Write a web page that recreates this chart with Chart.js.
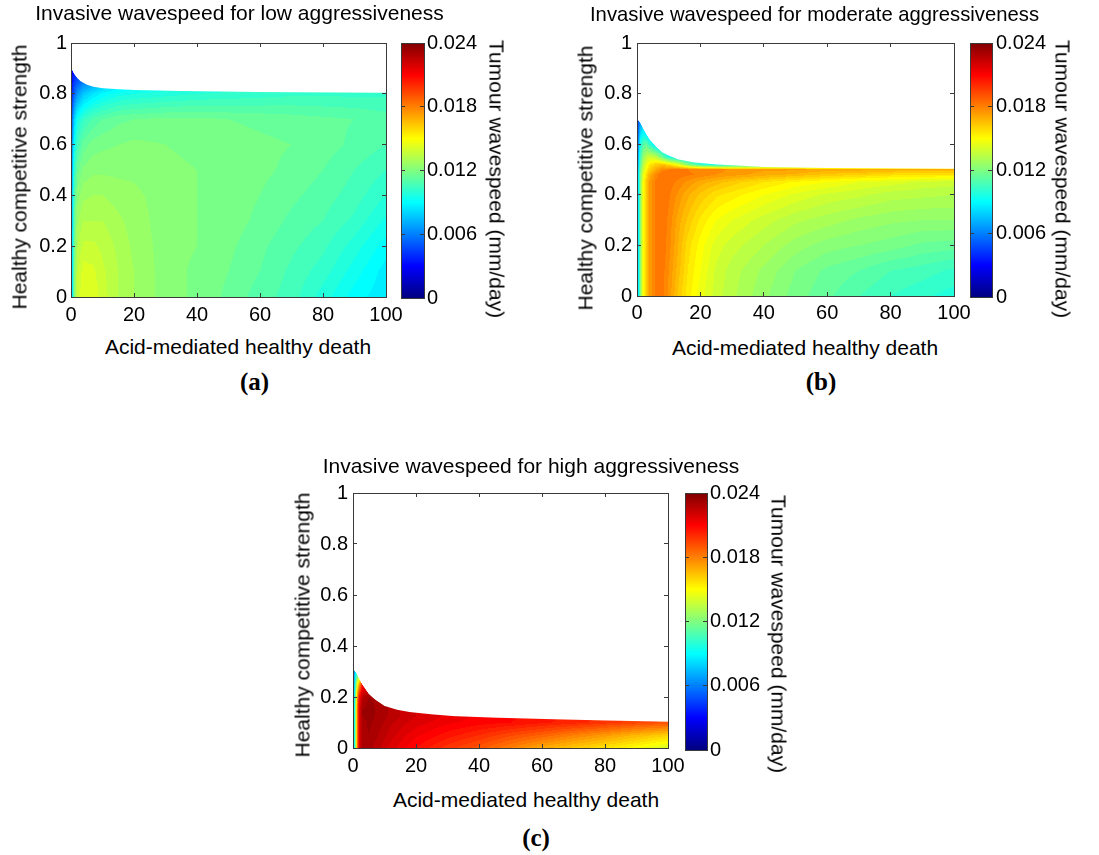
<!DOCTYPE html>
<html>
<head>
<meta charset="utf-8">
<script src="https://cdn.jsdelivr.net/npm/chart.js@4.4.1/dist/chart.umd.min.js"></script>
<style>
html,body{margin:0;padding:0;background:#fff;}
#root{position:relative;width:1099px;height:855px;overflow:hidden;font-family:"Liberation Sans",Arial,sans-serif;}
canvas{position:absolute;}
.lbl{position:absolute;font-size:21px;white-space:nowrap;line-height:1;color:#000;transform:translate(-50%,-50%);}
.lbl.v{transform:translate(-50%,-50%) rotate(-90deg);}
.lbl.vr{transform:translate(-50%,-50%) rotate(90deg);}
.cap{position:absolute;font-family:"Liberation Serif","Times New Roman",serif;font-weight:bold;font-size:25px;line-height:1;transform:translate(-50%,-50%);white-space:nowrap;}
</style>
</head>
<body>
<div id="root">
  <canvas id="mainA" width="479" height="330" style="left:0px;top:0px"></canvas>
  <canvas id="cbA" width="115" height="330" style="left:395px;top:0px"></canvas>
  <canvas id="mainB" width="449" height="330" style="left:590px;top:0px"></canvas>
  <canvas id="cbB" width="135" height="330" style="left:964px;top:0px"></canvas>
  <canvas id="mainC" width="462" height="328" style="left:300px;top:453px"></canvas>
  <canvas id="cbC" width="121" height="330" style="left:679px;top:453px"></canvas>

  <div class="lbl" style="left:238px;top:346px">Acid-mediated healthy death</div>
  <div class="lbl v" style="left:18.5px;top:177px">Healthy competitive strength</div>
  <div class="lbl vr" style="left:497px;top:178.5px">Tumour wavespeed (mm/day)</div>
  <div class="cap" style="left:254.5px;top:381px">(a)</div>

  <div class="lbl" style="left:805px;top:346.7px">Acid-mediated healthy death</div>
  <div class="lbl v" style="left:585px;top:178px">Healthy competitive strength</div>
  <div class="lbl vr" style="left:1062.5px;top:179px">Tumour wavespeed (mm/day)</div>
  <div class="cap" style="left:821px;top:381px">(b)</div>

  <div class="lbl" style="left:526px;top:799px">Acid-mediated healthy death</div>
  <div class="lbl v" style="left:301.5px;top:625px">Healthy competitive strength</div>
  <div class="lbl vr" style="left:779px;top:634px">Tumour wavespeed (mm/day)</div>
  <div class="cap" style="left:536px;top:836.5px">(c)</div>
</div>
<script>
// ---------------- axes / tick data ----------------
const xTicks = [0, 20, 40, 60, 80, 100];
const xTickLabels = ['0', '20', '40', '60', '80', '100'];
const yTicks = [0, 0.2, 0.4, 0.6, 0.8, 1];
const yTickLabels = ['0', '0.2', '0.4', '0.6', '0.8', '1'];
const cbTicks = [0, 0.006, 0.012, 0.018, 0.024];
const cbTickLabels = ['0', '0.006', '0.012', '0.018', '0.024'];
const CB_MIN = 0, CB_MAX = 0.024;       // colour limits (mm/day)
const SPEED_UNIT = 1e-3;                 // speed tables below are in 10^-3 mm/day
const LEVEL_STEP = 0.0004;               // contour level spacing (mm/day)

const titles = [
  'Invasive wavespeed for low aggressiveness',
  'Invasive wavespeed for moderate aggressiveness',
  'Invasive wavespeed for high aggressiveness'
];

// ---------------- panel (a): low aggressiveness ----------------
const deathA = [0, 0.5, 1, 2, 4, 7, 10, 15, 20, 30, 40, 50, 60, 70, 80, 90, 100];
const strengthA = [0, 0.1, 0.2, 0.3, 0.4, 0.5, 0.6, 0.7, 0.8, 0.85, 0.9, 1];
const speedA = [
  [2.4, 9.1, 12.0, 13.7, 14.4, 14.3, 13.8, 13.2, 12.8, 12.2, 11.9, 11.5, 11.0, 10.6, 9.8, 9.0, 8.5],
  [2.4, 9.1, 12.0, 13.6, 14.2, 14.1, 13.7, 13.2, 12.8, 12.2, 11.9, 11.6, 11.2, 10.7, 10.2, 9.4, 8.6],
  [2.4, 8.9, 11.5, 13.2, 13.7, 13.7, 13.5, 13.1, 12.7, 12.2, 12.0, 11.7, 11.3, 10.9, 10.5, 9.8, 9.0],
  [2.4, 8.6, 11.3, 12.7, 13.2, 13.2, 13.2, 12.9, 12.6, 12.2, 12.0, 11.8, 11.5, 11.1, 10.8, 10.3, 9.5],
  [2.4, 8.4, 10.8, 12.2, 12.7, 12.8, 12.8, 12.6, 12.5, 12.2, 12.0, 11.8, 11.6, 11.3, 11.0, 10.6, 10.0],
  [2.4, 7.9, 10.1, 11.5, 12.1, 12.3, 12.3, 12.3, 12.3, 12.1, 12.0, 11.9, 11.7, 11.5, 11.2, 10.8, 10.4],
  [2.4, 7.2, 9.1, 10.6, 11.4, 11.8, 11.9, 12.0, 12.1, 12.0, 11.9, 11.8, 11.7, 11.6, 11.4, 11.1, 10.8],
  [2.4, 6.2, 7.9, 9.4, 10.3, 10.9, 11.2, 11.5, 11.6, 11.7, 11.7, 11.6, 11.5, 11.4, 11.3, 11.2, 11.0],
  [1.9, 4.3, 5.3, 6.5, 7.7, 8.4, 8.9, 9.4, 9.6, 9.8, 10.0, 10.1, 10.2, 10.3, 10.3, 10.3, 10.3],
  [1.7, 3.6, 4.3, 5.0, 5.8, 6.5, 7.2, 7.9, 8.4, 8.9, 9.1, 9.4, 9.6, 9.6, 9.6, 9.6, 9.6],
  [1.4, 2.9, 3.4, 3.8, 4.8, 5.5, 6.0, 6.5, 7.0, 7.5, 8.0, 8.5, 9.0, 9.0, 9.0, 9.0, 9.0],
  [1.2, 2.4, 2.9, 3.4, 4.3, 5.0, 5.5, 6.0, 6.5, 7.0, 7.5, 8.0, 8.5, 8.5, 8.5, 8.5, 8.5]
];
const edgeDeathA = [0, 0.5, 1, 2, 3, 5, 7, 10, 15, 20, 35, 60, 100];
const edgeStrengthA = [0.905, 0.89, 0.878, 0.862, 0.85, 0.836, 0.828, 0.822, 0.818, 0.815, 0.811, 0.807, 0.804];

// ---------------- panel (b): moderate aggressiveness ----------------
const deathB = [0, 0.5, 1, 2, 3, 4, 6, 8, 10, 13, 16, 20, 25, 30, 40, 50, 60, 70, 80, 90, 100];
const strengthB = [0, 0.1, 0.2, 0.3, 0.4, 0.45, 0.48, 0.5, 0.52, 0.55, 0.6, 0.65, 0.7, 0.75];
const speedB = [
  [2.4, 9.1, 12.0, 14.9, 16.3, 17.3, 18.1, 18.2, 17.5, 16.3, 15.4, 14.6, 13.8, 13.3, 12.5, 11.8, 11.3, 10.8, 10.4, 10.1, 9.8],
  [2.4, 9.1, 12.0, 14.9, 16.3, 17.3, 18.1, 18.2, 17.6, 16.6, 15.6, 14.8, 13.9, 13.4, 12.7, 12.0, 11.5, 11.2, 10.8, 10.6, 10.3],
  [2.4, 9.1, 12.0, 14.9, 16.3, 17.3, 18.1, 18.3, 17.8, 16.8, 15.8, 15.0, 14.2, 13.8, 13.2, 12.6, 12.2, 12.0, 11.8, 11.5, 11.4],
  [2.4, 9.1, 12.0, 14.9, 16.3, 17.3, 18.1, 18.3, 17.9, 17.0, 16.3, 15.5, 14.8, 14.4, 13.8, 13.3, 13.0, 12.7, 12.5, 12.4, 12.4],
  [2.4, 9.1, 12.0, 14.9, 16.3, 17.3, 18.1, 18.4, 18.1, 17.5, 16.9, 16.3, 15.7, 15.4, 14.8, 14.3, 13.9, 13.7, 13.4, 13.3, 13.2],
  [2.4, 9.1, 12.0, 14.9, 16.3, 17.3, 18.1, 18.4, 18.2, 17.9, 17.5, 17.0, 16.6, 16.2, 15.6, 15.1, 14.8, 14.4, 14.2, 13.9, 13.8],
  [2.4, 8.9, 11.8, 14.4, 15.8, 16.8, 17.8, 18.4, 18.4, 18.2, 18.1, 17.9, 17.6, 17.4, 17.0, 16.7, 16.3, 16.1, 15.8, 15.7, 15.6],
  [2.4, 8.6, 11.5, 13.9, 15.1, 16.1, 17.0, 17.8, 18.0, 18.0, 18.0, 17.8, 17.8, 17.5, 17.3, 17.3, 17.0, 17.0, 16.8, 16.8, 16.8],
  [2.4, 8.2, 11.0, 13.4, 14.6, 15.4, 16.1, 16.3, 15.8, 14.4, 12.0, 10.1, 9.1, 9.1, 9.1, 9.1, 9.1, 9.1, 9.1, 9.1, 9.1],
  [2.4, 7.7, 10.3, 12.5, 13.4, 13.9, 13.4, 11.5, 9.6, 8.4, 8.4, 8.4, 8.4, 8.4, 8.4, 8.4, 8.4, 8.4, 8.4, 8.4, 8.4],
  [2.4, 7.0, 9.4, 11.0, 11.3, 10.1, 8.4, 7.2, 7.2, 7.2, 7.2, 7.2, 7.2, 7.2, 7.2, 7.2, 7.2, 7.2, 7.2, 7.2, 7.2],
  [2.4, 6.0, 7.9, 8.9, 7.9, 7.2, 7.2, 7.2, 7.2, 7.2, 7.2, 7.2, 7.2, 7.2, 7.2, 7.2, 7.2, 7.2, 7.2, 7.2, 7.2],
  [1.9, 4.8, 6.2, 6.0, 6.0, 6.0, 6.0, 6.0, 6.0, 6.0, 6.0, 6.0, 6.0, 6.0, 6.0, 6.0, 6.0, 6.0, 6.0, 6.0, 6.0],
  [1.9, 4.8, 4.8, 4.8, 4.8, 4.8, 4.8, 4.8, 4.8, 4.8, 4.8, 4.8, 4.8, 4.8, 4.8, 4.8, 4.8, 4.8, 4.8, 4.8, 4.8]
];
const edgeDeathB = [0, 1, 2, 3, 4, 6, 8, 10, 13, 18, 25, 40, 60, 100];
const edgeStrengthB = [0.70, 0.685, 0.66, 0.638, 0.618, 0.59, 0.568, 0.555, 0.54, 0.528, 0.52, 0.51, 0.506, 0.503];

// ---------------- panel (c): high aggressiveness ----------------
const deathC = [0, 0.5, 1, 1.5, 2, 3, 5, 8, 12, 16, 20, 30, 40, 50, 60, 70, 80, 90, 100];
const strengthC = [0, 0.05, 0.1, 0.125, 0.15, 0.2, 0.25, 0.3, 0.35];
const speedC = [
  [2.4, 9.6, 14.9, 19.2, 21.6, 22.8, 23.0, 22.5, 21.8, 21.3, 20.8, 19.8, 19.0, 18.0, 17.0, 16.3, 15.6, 14.9, 14.0],
  [2.4, 9.6, 14.9, 19.2, 21.6, 22.9, 23.2, 22.8, 22.2, 21.7, 21.3, 20.6, 20.0, 19.3, 18.7, 18.0, 17.4, 16.7, 16.1],
  [2.4, 9.6, 14.9, 19.2, 21.6, 23.0, 23.3, 23.0, 22.5, 22.1, 21.8, 21.3, 21.0, 20.8, 20.5, 20.2, 19.8, 19.4, 19.1],
  [2.4, 9.6, 14.9, 19.2, 21.6, 23.2, 23.4, 23.1, 22.7, 22.3, 22.0, 21.5, 21.1, 20.9, 20.6, 20.3, 19.9, 19.6, 19.2],
  [2.4, 9.6, 14.9, 19.2, 21.6, 23.2, 23.4, 23.1, 22.7, 22.3, 22.0, 21.5, 21.1, 20.9, 20.6, 20.3, 19.9, 19.6, 19.2],
  [2.4, 9.1, 14.4, 18.5, 20.9, 22.6, 23.2, 23.1, 22.7, 22.3, 22.0, 21.5, 21.1, 20.9, 20.6, 20.3, 19.9, 19.6, 19.2],
  [2.4, 8.4, 12.5, 15.4, 17.3, 20.6, 21.6, 21.6, 21.6, 21.6, 21.6, 21.6, 21.6, 21.6, 21.6, 21.6, 21.6, 21.6, 21.6],
  [2.4, 7.2, 9.1, 10.1, 10.8, 12.0, 12.0, 12.0, 12.0, 12.0, 12.0, 12.0, 12.0, 12.0, 12.0, 12.0, 12.0, 12.0, 12.0],
  [2.4, 7.2, 7.2, 7.2, 7.2, 7.2, 7.2, 7.2, 7.2, 7.2, 7.2, 7.2, 7.2, 7.2, 7.2, 7.2, 7.2, 7.2, 7.2]
];
const edgeDeathC = [0, 1, 2, 3, 4, 5, 7, 10, 14, 18, 25, 32, 45, 63, 80, 100];
const edgeStrengthC = [0.31, 0.295, 0.27, 0.248, 0.23, 0.212, 0.19, 0.165, 0.15, 0.141, 0.132, 0.125, 0.119, 0.113, 0.108, 0.103];

// ---------------- helpers ----------------
const FONT = '"Liberation Sans", Arial, sans-serif';
const AX_COLOR = '#3a3a3a';
Chart.defaults.font.family = FONT;

function jet(t) {
  t = Math.max(0, Math.min(1, t));
  const c = v => Math.round(255 * Math.max(0, Math.min(1, v)));
  return [c(1.5 - Math.abs(4 * t - 3)), c(1.5 - Math.abs(4 * t - 2)), c(1.5 - Math.abs(4 * t - 1))];
}
function locate(arr, v) {
  const n = arr.length;
  if (v <= arr[0]) return [0, 0];
  if (v >= arr[n - 1]) return [n - 2, 1];
  let i = 0;
  while (i < n - 2 && v > arr[i + 1]) i++;
  return [i, (v - arr[i]) / (arr[i + 1] - arr[i])];
}
function edgeAt(ex, ey, x) {
  const [i, t] = locate(ex, x);
  return ey[i] + (ey[i + 1] - ey[i]) * t;
}

// draws the filled contour field of dataset 0 through the chart's x / y scales
const fieldPlugin = {
  id: 'wavefield',
  beforeDraw(chart) {
    const ds = chart.data.datasets[0];
    if (!ds || !ds.field) return;
    const f = ds.field;
    const xS = chart.scales.x, yS = chart.scales.y, a = chart.chartArea;
    const x0 = Math.round(a.left), x1 = Math.round(a.right);
    const y0 = Math.round(a.top), y1 = Math.round(a.bottom);
    const w = x1 - x0, h = y1 - y0;
    const off = document.createElement('canvas');
    off.width = w; off.height = h;
    const octx = off.getContext('2d');
    const img = octx.createImageData(w, h);
    const cols = [];
    for (let i = 0; i < w; i++) {
      const xv = xS.getValueForPixel(x0 + i + 0.5);
      const [ix, tx] = locate(f.xs, xv);
      cols.push([ix, tx, edgeAt(f.ex, f.ey, xv)]);
    }
    const hy = Math.abs(yS.getValueForPixel(0) - yS.getValueForPixel(1)) / 2;
    for (let j = 0; j < h; j++) {
      const yv = yS.getValueForPixel(y0 + j + 0.5);
      const [iy, ty] = locate(f.ys, yv);
      const r0 = f.z[iy], r1 = f.z[iy + 1];
      for (let i = 0; i < w; i++) {
        const [ix, tx, e] = cols[i];
        const alpha = Math.max(0, Math.min(1, (e - (yv - hy)) / (2 * hy)));
        if (alpha <= 0) continue;
        const a0 = r0[ix] + (r0[ix + 1] - r0[ix]) * tx;
        const a1 = r1[ix] + (r1[ix + 1] - r1[ix]) * tx;
        const v = (a0 + (a1 - a0) * ty) * SPEED_UNIT;
        const lvl = Math.floor(v / LEVEL_STEP);
        const col = jet(((lvl + 0.5) * LEVEL_STEP - CB_MIN) / (CB_MAX - CB_MIN));
        const k = (j * w + i) * 4;
        img.data[k] = col[0]; img.data[k + 1] = col[1]; img.data[k + 2] = col[2];
        img.data[k + 3] = Math.round(alpha * 255);
      }
    }
    octx.putImageData(img, 0, 0);
    chart.ctx.drawImage(off, x0, y0);
  }
};

// draws the colour bar through the colour bar chart's y scale
const colorbarPlugin = {
  id: 'colorbar',
  beforeDraw(chart) {
    const ds = chart.data.datasets[0];
    if (!ds || !ds.colorbar) return;
    const yS = chart.scales.y, a = chart.chartArea, ctx = chart.ctx;
    const x0 = Math.round(a.left), x1 = Math.round(a.right);
    for (let py = Math.round(a.top); py < Math.round(a.bottom); py++) {
      const v = yS.getValueForPixel(py + 0.5);
      const c = jet((v - CB_MIN) / (CB_MAX - CB_MIN));
      ctx.fillStyle = `rgb(${c[0]},${c[1]},${c[2]})`;
      ctx.fillRect(x0, py, x1 - x0, 1);
    }
  }
};

function setTicks(arr) { return s => { s.ticks = arr.map(v => ({ value: v })); }; }
function gridOpts(len) { return { drawOnChartArea: false, drawTicks: true, tickLength: len, color: AX_COLOR, lineWidth: 1 }; }
const borderOpts = { display: true, color: AX_COLOR, width: 1 };

function mainChart(id, p) {
  const nodes = [];
  p.ys.forEach(y => p.xs.forEach(x => nodes.push({ x, y })));
  return new Chart(document.getElementById(id), {
    type: 'scatter',
    data: { datasets: [{ data: nodes, pointRadius: 0, showLine: false,
      field: { xs: p.xs, ys: p.ys, z: p.z, ex: p.ex, ey: p.ey } }] },
    options: {
      responsive: false, animation: false, devicePixelRatio: 1,
      layout: { padding: 0 },
      events: [],
      plugins: {
        legend: { display: false }, tooltip: { enabled: false },
        title: { display: true, text: p.title, color: '#000',
          font: { size: 21, weight: 'normal', family: FONT },
          padding: { top: p.tPadTop, bottom: p.tPadBottom } }
      },
      scales: {
        x: { type: 'linear', position: 'bottom', min: 0, max: 100,
          afterBuildTicks: setTicks(xTicks), afterFit: s => { s.height = p.xH; },
          ticks: { color: '#000', font: { size: 20, family: FONT }, padding: p.xPad, maxRotation: 0, autoSkip: false,
            callback: (v, i) => xTickLabels[i] },
          grid: gridOpts(-4), border: borderOpts },
        x2: { type: 'linear', position: 'top', min: 0, max: 100,
          afterBuildTicks: setTicks(xTicks), afterFit: s => { s.height = 0; },
          ticks: { display: false }, grid: gridOpts(-4), border: borderOpts },
        y: { type: 'linear', position: 'left', min: 0, max: 1,
          afterBuildTicks: setTicks(yTicks), afterFit: s => { s.width = p.yW; },
          ticks: { color: '#000', font: { size: 20, family: FONT }, padding: p.yPad, autoSkip: false,
            callback: (v, i) => yTickLabels[i] },
          grid: gridOpts(-4), border: borderOpts },
        y2: { type: 'linear', position: 'right', min: 0, max: 1,
          afterBuildTicks: setTicks(yTicks), afterFit: s => { s.width = p.y2W; },
          ticks: { display: false }, grid: gridOpts(-4), border: borderOpts }
      }
    },
    plugins: [fieldPlugin]
  });
}

function colorbarChart(id, p) {
  return new Chart(document.getElementById(id), {
    type: 'scatter',
    data: { datasets: [{ data: [], colorbar: true }] },
    options: {
      responsive: false, animation: false, devicePixelRatio: 1, events: [],
      layout: { padding: { top: p.top, bottom: p.bottom, left: 0, right: 0 } },
      plugins: { legend: { display: false }, tooltip: { enabled: false } },
      scales: {
        x: { type: 'linear', position: 'bottom', min: 0, max: 1, afterFit: s => { s.height = 0; },
          ticks: { display: false }, grid: { display: false }, border: borderOpts },
        x2: { type: 'linear', position: 'top', min: 0, max: 1, afterFit: s => { s.height = 0; },
          ticks: { display: false }, grid: { display: false }, border: borderOpts },
        yl: { type: 'linear', position: 'left', min: CB_MIN, max: CB_MAX,
          afterBuildTicks: setTicks(cbTicks), afterFit: s => { s.width = p.lW; },
          ticks: { display: false }, grid: gridOpts(-4), border: borderOpts },
        y: { type: 'linear', position: 'right', min: CB_MIN, max: CB_MAX,
          afterBuildTicks: setTicks(cbTicks), afterFit: s => { s.width = p.rW; },
          ticks: { color: '#000', font: { size: 20, family: FONT }, padding: p.pad, autoSkip: false,
            callback: (v, i) => cbTickLabels[i] },
          grid: gridOpts(-4), border: borderOpts }
      }
    },
    plugins: [colorbarPlugin]
  });
}

// panel (a)  plot area 71..386 x 43..297
mainChart('mainA', { title: titles[0], xs: deathA, ys: strengthA, z: speedA, ex: edgeDeathA, ey: edgeStrengthA,
  tPadTop: 1.4, tPadBottom: 16.4, xH: 33, xPad: 10, yW: 71, yPad: 8, y2W: 93 });
colorbarChart('cbA', { top: 43, bottom: 330 - 298, lW: 6, rW: 115 - 29, pad: 7 });

// panel (b)  plot area 637..954 x 43..296
mainChart('mainB', { title: titles[1], xs: deathB, ys: strengthB, z: speedB, ex: edgeDeathB, ey: edgeStrengthB,
  tPadTop: 2.4, tPadBottom: 15.4, xH: 34, xPad: 9, yW: 47, yPad: 9, y2W: 85 });
colorbarChart('cbB', { top: 43, bottom: 330 - 297, lW: 6, rW: 135 - 28, pad: 8 });

// panel (c)  plot area 353..668 x 493..748
mainChart('mainC', { title: titles[2], xs: deathC, ys: strengthC, z: speedC, ex: edgeDeathC, ey: edgeStrengthC,
  tPadTop: 1.4, tPadBottom: 13.4, xH: 33, xPad: 10, yW: 53, yPad: 9, y2W: 94 });
colorbarChart('cbC', { top: 40, bottom: 330 - 297, lW: 6, rW: 121 - 28, pad: 7 });
</script>
</body>
</html>
